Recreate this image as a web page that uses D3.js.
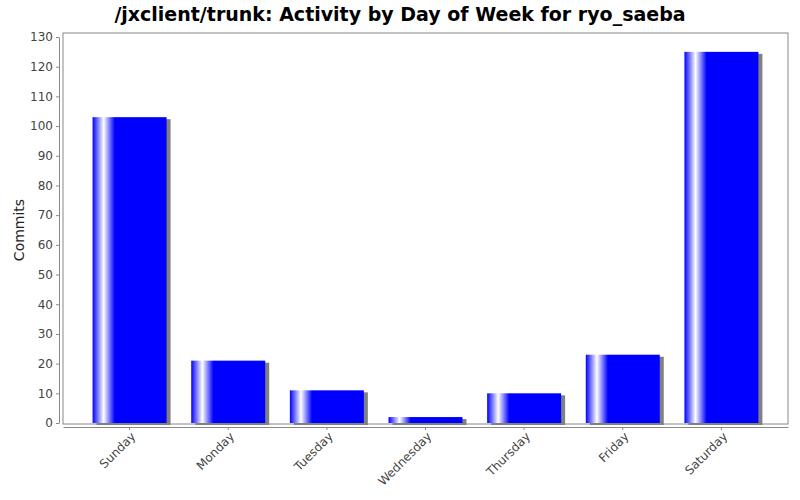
<!DOCTYPE html>
<html><head><meta charset="utf-8">
<script src="https://cdn.jsdelivr.net/npm/d3@7"></script>
<style>body{margin:0;background:#fff}svg{font-family:"DejaVu Sans",sans-serif}</style>
</head><body><svg width="800" height="500"></svg>
<script>
const categories=["Sunday","Monday","Tuesday","Wednesday","Thursday","Friday","Saturday"];
const commits=[103,21,11,2,10,23,125];
const yTicks=d3.range(0,131,10);
const svg=d3.select("svg");
const L=63,R=788,T=33,B=423;
const x=d3.scaleBand().domain(categories).range([L,R]).paddingInner(0.25).paddingOuter(0.3);
const y=d3.scaleLinear().domain([0,130]).range([B,37]);
const defs=svg.append("defs");
const g=defs.append("linearGradient").attr("id","bg").attr("x1","0").attr("x2","1");
[[0,"#0000ff"],[0.15,"#ffffff"],[0.3,"#0000ff"],[1,"#0000ff"]].forEach(s=>g.append("stop").attr("offset",s[0]).attr("stop-color",s[1]));
svg.append("text").attr("x",400).attr("y",21).attr("text-anchor","middle").attr("font-size",19).attr("font-weight","bold").text("/jxclient/trunk: Activity by Day of Week for ryo_saeba");
svg.append("rect").attr("x",L).attr("y",T).attr("width",R-L).attr("height",B-T+1).attr("fill","#fff").attr("stroke","#888");
// y axis
const ya=svg.append("g").attr("transform",`translate(${L-4},0)`).call(d3.axisLeft(y).tickValues(yTicks).tickSize(3).tickSizeOuter(0));
ya.select(".domain").attr("stroke","#888");ya.selectAll("line").attr("stroke","#888");
ya.selectAll("text").attr("font-size",12).attr("fill","#444").attr("font-family","DejaVu Sans");
svg.append("text").attr("transform","translate(24,230) rotate(-90)").attr("text-anchor","middle").attr("font-size",14).attr("fill","#222").text("Commits");
// bars
const bw=x.bandwidth();
svg.selectAll(".sh").data(commits).join("rect").attr("x",(d,i)=>x(categories[i])+4).attr("y",d=>y(d)+2)
 .attr("width",bw).attr("height",d=>B-y(d)-2+2).attr("fill","#808080");
svg.selectAll(".b").data(commits).join("rect").attr("x",(d,i)=>x(categories[i])).attr("y",d=>y(d))
 .attr("width",bw).attr("height",d=>B-y(d)).attr("fill","url(#bg)");
// x axis
const xa=svg.append("g").attr("transform",`translate(0,427)`).call(d3.axisBottom(x).tickSize(3).tickSizeOuter(0));
xa.select(".domain").attr("stroke","#888");xa.selectAll("line").attr("stroke","#888");
xa.selectAll("text").attr("font-size",12).attr("fill","#444").attr("font-family","DejaVu Sans")
 .attr("text-anchor","end").attr("dx","-0.2em").attr("dy","0.5em").attr("transform","rotate(-45)");
</script></body></html>
